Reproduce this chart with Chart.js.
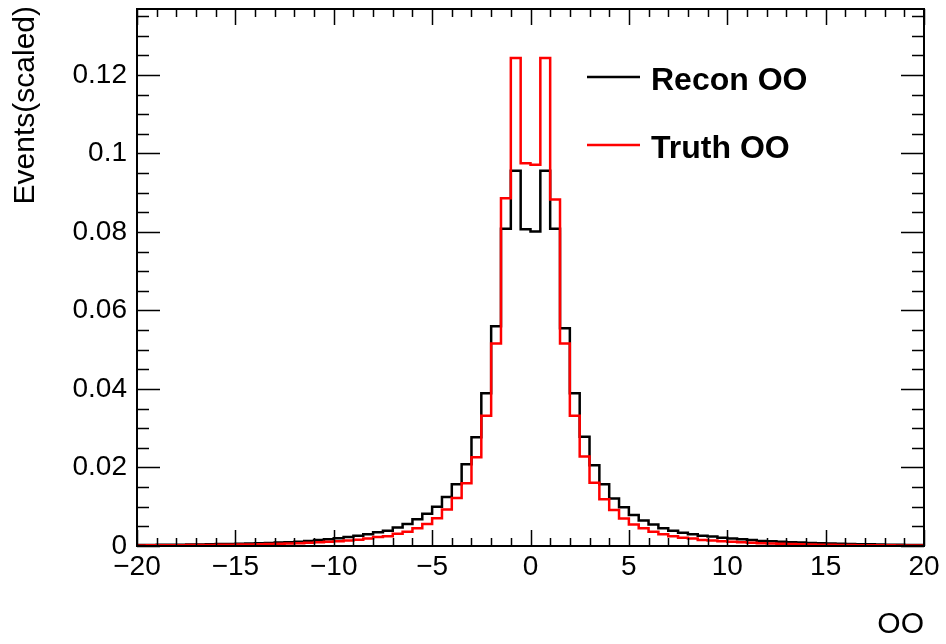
<!DOCTYPE html>
<html>
<head>
<meta charset="utf-8">
<script src="https://cdn.jsdelivr.net/npm/chart.js@4"></script>
<style>
  body { margin: 0; background: #fff; }
  canvas { display: block; }
</style>
</head>
<body>
<canvas id="myChart" width="946" height="644"></canvas>
<script>
// 80 bins of width 0.5 from -20 to 20
const xLow = -20;
const binWidth = 0.5;

const reconOO = [
  0.00025, 0.00027, 0.00029, 0.00031, 0.00034, 0.00037, 0.0004, 0.00044, 0.00048, 0.00053,
  0.00058, 0.00064, 0.0007, 0.00078, 0.00087, 0.00097, 0.0011, 0.0013, 0.0015, 0.0017,
  0.002, 0.0023, 0.0026, 0.003, 0.0035, 0.0039, 0.0047, 0.0056, 0.0068, 0.0082,
  0.01, 0.0125, 0.0157, 0.0208, 0.0277, 0.0389, 0.056, 0.0808, 0.0956, 0.0807,
  0.0801, 0.0956, 0.0808, 0.0555, 0.0389, 0.0278, 0.0206, 0.0157, 0.0121, 0.0099,
  0.0079, 0.0065, 0.0055, 0.0045, 0.0039, 0.0034, 0.003, 0.0026, 0.0024, 0.0021,
  0.0019, 0.0017, 0.0015, 0.0013, 0.0012, 0.0011, 0.00097, 0.00087, 0.00078, 0.0007,
  0.00063, 0.00057, 0.00051, 0.00046, 0.00042, 0.00038, 0.00034, 0.00031, 0.00028, 0.00025
];

const truthOO = [
  0.00015, 0.00016, 0.00018, 0.00019, 0.00021, 0.00023, 0.00025, 0.00027, 0.0003, 0.00033,
  0.00036, 0.0004, 0.00044, 0.00049, 0.00055, 0.00062, 0.0007, 0.00081, 0.00093, 0.00106,
  0.0012, 0.0014, 0.0016, 0.0019, 0.0023, 0.0025, 0.0031, 0.0036, 0.0045, 0.0056,
  0.0071, 0.0093, 0.0122, 0.016, 0.0226, 0.0332, 0.0516, 0.0886, 0.1243, 0.0975,
  0.0971, 0.1243, 0.0883, 0.0516, 0.0332, 0.0228, 0.0161, 0.0119, 0.0092, 0.007,
  0.0055, 0.0045, 0.0036, 0.003, 0.0025, 0.0021, 0.0019, 0.0015, 0.0014, 0.0012,
  0.0011, 0.00095, 0.00083, 0.00073, 0.00064, 0.00056, 0.0005, 0.00044, 0.00039, 0.00035,
  0.00031, 0.00028, 0.00025, 0.00022, 0.0002, 0.00018, 0.00016, 0.00015, 0.00013, 0.00012
];

const xTicks = [-20, -15, -10, -5, 0, 5, 10, 15, 20];
const xTickLabels = ["\u221220", "\u221215", "\u221210", "\u22125", "0", "5", "10", "15", "20"];
const yTicks = [0, 0.02, 0.04, 0.06, 0.08, 0.1, 0.12];
const yTickLabels = ["0", "0.02", "0.04", "0.06", "0.08", "0.1", "0.12"];

const FONT = "'Liberation Sans', Arial, Helvetica, sans-serif";

// histogram outline: one point at the upper edge of every bin, starting from (xLow, 0).
// stepped 'after' goes up/down at the low edge, then runs flat to the upper edge.
function toSteps(values) {
  const pts = [{ x: xLow, y: 0 }];
  values.forEach((v, i) => {
    pts.push({ x: xLow + (i + 1) * binWidth, y: v });
  });
  return pts;
}

const rootFrame = {
  id: "rootFrame",
  afterDraw(chart) {
    const ctx = chart.ctx;
    const a = chart.chartArea;
    const xs = chart.scales.x;
    const ys = chart.scales.y;
    ctx.save();
    ctx.strokeStyle = "#000";
    ctx.lineWidth = 1.5;

    // ticks inside the frame, on all four sides
    ctx.beginPath();
    for (let v = -20; v <= 20; v += 1) {
      const px = Math.round(xs.getPixelForValue(v)) + 0.5;
      const len = v % 5 === 0 ? 16 : 8;
      ctx.moveTo(px, a.bottom); ctx.lineTo(px, a.bottom - len);
      ctx.moveTo(px, a.top); ctx.lineTo(px, a.top + len);
    }
    for (let i = 0; i * 0.005 <= 0.1368; i++) {
      const py = Math.round(ys.getPixelForValue(i * 0.005)) + 0.5;
      const len = i % 4 === 0 ? 23 : 12;
      ctx.moveTo(a.left, py); ctx.lineTo(a.left + len, py);
      ctx.moveTo(a.right, py); ctx.lineTo(a.right - len, py);
    }
    ctx.stroke();

    ctx.lineWidth = 2;
    ctx.strokeRect(a.left, a.top, a.right - a.left, a.bottom - a.top);

    // axis titles
    ctx.fillStyle = "#000";
    ctx.font = "30px " + FONT;
    ctx.textAlign = "right";
    ctx.textBaseline = "middle";
    ctx.fillText("OO", a.right, 625);
    ctx.save();
    ctx.translate(26, a.top - 3);
    ctx.rotate(-Math.PI / 2);
    ctx.fillText("Events(scaled)", 0, 0);
    ctx.restore();

    // legend
    const entries = [
      { label: "Recon OO", color: "#000", y: 77 },
      { label: "Truth OO", color: "#ff0000", y: 145 }
    ];
    ctx.font = "bold 32px " + FONT;
    ctx.textAlign = "left";
    entries.forEach((e) => {
      ctx.strokeStyle = e.color;
      ctx.lineWidth = 2.5;
      ctx.beginPath();
      ctx.moveTo(587, e.y);
      ctx.lineTo(640, e.y);
      ctx.stroke();
      ctx.fillStyle = "#000";
      ctx.fillText(e.label, 651, e.y + 4);
    });
    ctx.restore();
  }
};

const config = {
  type: "line",
  data: {
    datasets: [
      {
        label: "Truth OO",
        data: toSteps(truthOO),
        borderColor: "#ff0000",
        borderWidth: 2.5,
        stepped: "after",
        pointRadius: 0,
        fill: false,
        order: 0
      },
      {
        label: "Recon OO",
        data: toSteps(reconOO),
        borderColor: "#000000",
        borderWidth: 2.5,
        stepped: "after",
        pointRadius: 0,
        fill: false,
        order: 1
      }
    ]
  },
  options: {
    responsive: false,
    animation: false,
    layout: { padding: { left: 0, top: 9, right: 22, bottom: 0 } },
    scales: {
      x: {
        type: "linear",
        min: -20,
        max: 20,
        grid: { display: false, drawTicks: false },
        border: { display: false },
        afterBuildTicks: (s) => { s.ticks = xTicks.map((v) => ({ value: v })); },
        afterFit: (s) => { s.height = 98; s.paddingLeft = 0; s.paddingRight = 0; },
        ticks: {
          autoSkip: false,
          maxRotation: 0,
          padding: 4,
          color: "#000",
          font: { family: FONT, size: 28 },
          callback: (v, i) => xTickLabels[i]
        }
      },
      y: {
        min: 0,
        max: 0.1368,
        grid: { display: false, drawTicks: false },
        border: { display: false },
        afterBuildTicks: (s) => { s.ticks = yTicks.map((v) => ({ value: v })); },
        afterFit: (s) => { s.width = 137; s.paddingTop = 0; s.paddingBottom = 0; },
        ticks: {
          autoSkip: false,
          padding: 10,
          color: "#000",
          font: { family: FONT, size: 28 },
          callback: (v, i) => yTickLabels[i]
        }
      }
    },
    plugins: {
      legend: { display: false },
      tooltip: { enabled: false }
    }
  },
  plugins: [rootFrame]
};

const myChart = new Chart(document.getElementById("myChart"), config);
</script>
</body>
</html>
